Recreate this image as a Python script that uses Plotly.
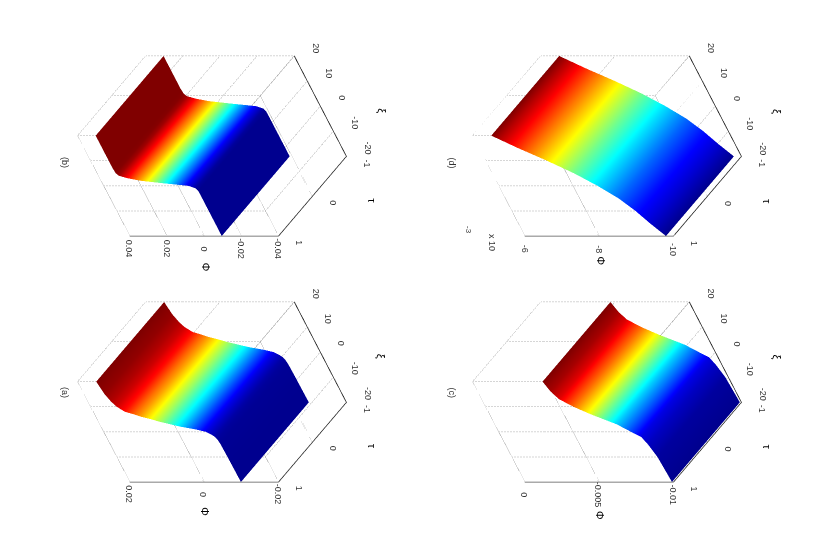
import plotly.graph_objects as go

# ---- data ----
tau = [-1, 1]
xi_ticks = [-20, -10, 0, 10, 20]
tau_ticks = [-1, 0, 1]

xi_a = [-20, -10, -5, -3, -2, -1, 0, 1, 2, 3, 4, 5, 6, 7, 8, 10, 12, 15, 20]
phi_a = [-0.0099, -0.0098, -0.0097, -0.0095, -0.0092, -0.0085, -0.0075, -0.005, -0.0015,
         0.001, 0.0035, 0.0055, 0.0078, 0.0095, 0.0115, 0.013, 0.0138, 0.0145, 0.015]

xi_b = [-20, -10, -5, -3, -2, -1, 0, 1, 2, 3, 4, 5, 7, 10, 20]
phi_b = [-0.0095, -0.0095, -0.0095, -0.0095, -0.0094, -0.0088, -0.0055, 0.007, 0.0185,
         0.025, 0.029, 0.030, 0.0303, 0.0303, 0.0303]

xi_c = [-20, -15, -10, -5, -2, 0, 3, 7, 10, 13, 16, 20]
phi_c = [-0.0099, -0.00985, -0.0098, -0.0096, -0.0094, -0.0089, -0.0082, -0.0068, -0.0059,
         -0.0052, -0.0049, -0.0047]

xi_d = [-20, -15, -10, -5, 0, 5, 10, 15, 20]
phi_d = [-9.8, -9.55, -9.33, -9.05, -8.66, -8.2, -7.65, -7.05, -6.5]

z_ticks_a = [-0.02, 0, 0.02]
z_labels_a = ["-0.02", "0", "0.02"]
z_ticks_b = [-0.04, -0.02, 0, 0.02, 0.04]
z_labels_b = ["-0.04", "-0.02", "0", "0.02", "0.04"]
z_ticks_c = [-0.01, -0.005, 0]
z_labels_c = ["-0.01", "-0.005", "0"]
z_ticks_d = [-10, -8, -6]
z_labels_d = ["-10", "-8", "-6"]

panel_titles = ["(a)", "(b)", "(c)", "(d)"]

JET = [[0, "#00008f"], [0.125, "#0000ff"], [0.375, "#00ffff"],
       [0.625, "#ffff00"], [0.875, "#ff0000"], [1, "#800000"]]
GRID = "#5a5a5a"
TEXT = "#333333"
FONT = "Liberation Sans"
W, H = 830, 554
VW, VH = 300, 240
OFF = 8

panels = [
    ("scene", xi_a, phi_a, z_ticks_a, z_labels_a, 211.5, 391.5, 50.5, 392, -30),
    ("scene2", xi_b, phi_b, z_ticks_b, z_labels_b, 211.5, 146, 50.5, 147, -31),
    ("scene3", xi_c, phi_c, z_ticks_c, z_labels_c, 606.7, 391.5, 444, 392, -34),
    ("scene4", xi_d, phi_d, z_ticks_d, z_labels_d, 606.7, 146, 444, 147, -25),
]


def line(scene, xs, ys, zs, color, width, dash):
    return go.Scatter3d(x=xs, y=ys, z=zs, mode="lines", scene=scene, showlegend=False,
                        hoverinfo="skip", line=dict(color=color, width=width, dash=dash))


def label(x, y, z, text, dx, dy, size=9, color=TEXT):
    return dict(x=x, y=y, z=z, text=text, showarrow=False, textangle=90, xshift=dx, yshift=dy,
                xanchor="center", yanchor="middle", font=dict(family=FONT, size=size, color=color))


fig = go.Figure()
layout = {}
paper_notes = []
for (scene, xi, phi, zt, zl, cx, cy, tx, ty, phi_dy), title in zip(panels, panel_titles):
    x0, x1 = xi_ticks[0], xi_ticks[-1]
    y0, y1 = tau_ticks[0], tau_ticks[-1]
    z0, z1 = zt[0], zt[-1]
    # wall tau = 1 / wall xi = 20 / floor, dotted
    for z in zt:
        fig.add_trace(line(scene, [x0, x1, x1], [y1, y1, y0], [z, z, z], GRID, 1, "dot"))
    for x in xi_ticks:
        fig.add_trace(line(scene, [x, x, x], [y0, y1, y1], [z0, z0, z1], GRID, 1, "dot"))
    for y in tau_ticks:
        fig.add_trace(line(scene, [x0, x1, x1], [y, y, y], [z0, z0, z1], GRID, 1, "dot"))
    # surface
    fig.add_trace(go.Surface(x=xi, y=tau, z=[phi, phi], scene=scene, colorscale=JET, showscale=False,
                             hoverinfo="skip",
                             lighting=dict(ambient=1, diffuse=0, specular=0, roughness=1, fresnel=0),
                             contours=dict(x=dict(highlight=False), y=dict(highlight=False),
                                           z=dict(highlight=False))))
    # axis lines
    fig.add_trace(line(scene, [x0, x0], [y1, y1], [z0, z1], "#555555", 1.5, "solid"))
    fig.add_trace(line(scene, [x0, x0, x1], [y1, y0, y0], [z0, z0, z0], "#111111", 1.5, "solid"))

    notes = []
    for x in xi_ticks:
        notes.append(label(x, y0, z0, str(x), 22, 8))
    for y in tau_ticks:
        notes.append(label(x0, y, z0, str(y), 21, -7))
    for z, s in zip(zt, zl):
        notes.append(label(x0, y1, z, s, 0, -13))
    notes.append(label(0, y0, z0, "\u03be", 62, -5, 11, "#000000"))
    notes.append(label(x0, 0, z0, "\u03c4", 60, -5, 11, "#000000"))
    notes.append(label(x0, y1, (z0 + z1) / 2, "\u03a6", 2, phi_dy, 11, "#000000"))

    layout[scene] = dict(
        domain=dict(x=[(cx - OFF - VW / 2) / W, (cx - OFF + VW / 2) / W],
                    y=[1 - (cy - OFF + VH / 2) / H, 1 - (cy - OFF - VH / 2) / H]),
        xaxis=dict(range=[x0, x1], visible=False),
        yaxis=dict(range=[y0, y1], visible=False),
        zaxis=dict(range=[z0, z1], visible=False),
        aspectmode="manual", aspectratio=dict(x=1.062, y=1.08, z=1.66),
        annotations=notes,
        camera=dict(projection=dict(type="orthographic"),
                    eye=dict(x=-1.148, y=-1.47, z=1.663),
                    up=dict(x=0.788, y=-0.615, z=0), center=dict(x=0, y=0, z=0)),
    )
    paper_notes.append(dict(x=tx / W, y=1 - ty / H, xref="paper", yref="paper", text=title, showarrow=False,
                            textangle=90, font=dict(family=FONT, size=9, color=TEXT)))

paper_notes.append(dict(x=484 / W, y=1 - 234 / H, xref="paper", yref="paper", text="x 10", showarrow=False,
                        textangle=90, font=dict(family=FONT, size=9, color=TEXT)))
paper_notes.append(dict(x=460 / W, y=1 - 222 / H, xref="paper", yref="paper", text="-3", showarrow=False,
                        textangle=90, font=dict(family=FONT, size=8, color=TEXT)))

fig.update_layout(width=W, height=H, margin=dict(l=0, r=0, t=0, b=0), paper_bgcolor="white",
                  showlegend=False, annotations=paper_notes, **layout)
fig.write_html("out.html")
